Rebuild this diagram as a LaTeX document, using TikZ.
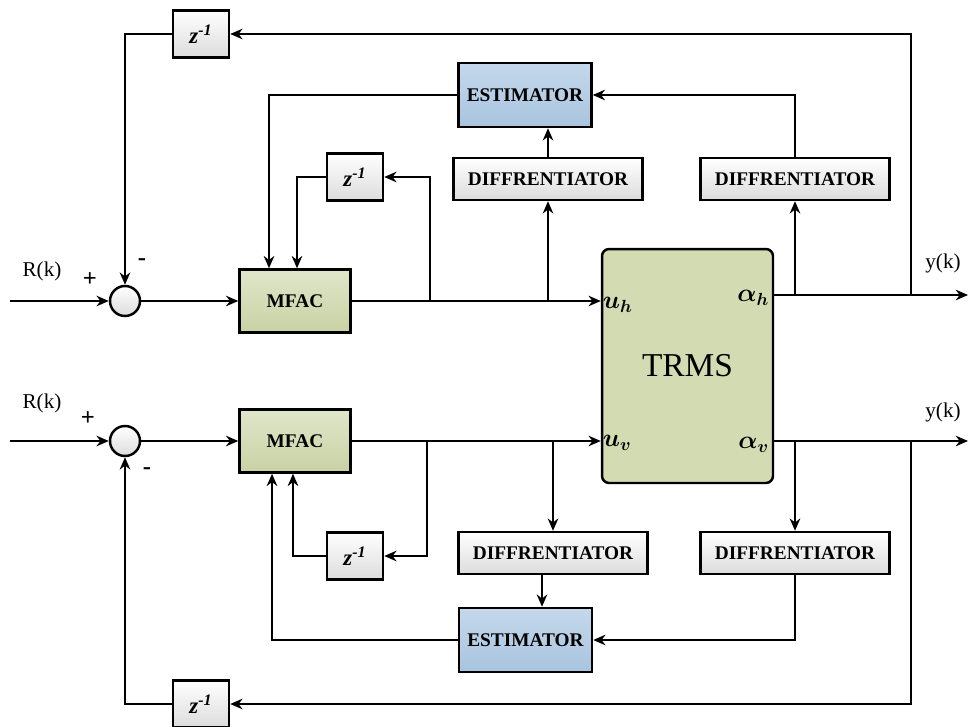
\documentclass[tikz,border=0pt]{standalone}
\usepackage{fontspec}
\setmainfont{Liberation Serif}
\usepackage{amsmath}
\usepackage{bm}
\usetikzlibrary{arrows.meta}
\definecolor{MfacGreen}{HTML}{D3DBB3}
\definecolor{MfacGreenDk}{HTML}{C8D2A4}
\definecolor{EstBlue}{HTML}{C5D8EB}
\definecolor{EstBlueDk}{HTML}{A8C4DF}
\definecolor{BoxGray}{HTML}{DCDCDC}
\newcommand{\zinv}{\textbf{\textit{z}}\textsuperscript{\textbf{\textit{-1}}}}

\begin{document}
\begin{tikzpicture}[x=0.02cm,y=-0.02cm,
    blk/.style={draw=black, line width=1.4pt, inner sep=0pt, font=\bfseries\fontsize{11}{13}\selectfont},
    zbox/.style={blk, top color=white, bottom color=BoxGray, minimum width=1.12cm, minimum height=0.94cm, font=\fontsize{13}{15}\selectfont},
    diffbox/.style={blk, top color=white, bottom color=BoxGray, minimum width=3.78cm, minimum height=0.84cm},
    mfacbox/.style={blk, top color=MfacGreen!70!white, bottom color=MfacGreenDk, minimum width=2.22cm, minimum height=1.26cm},
    estbox/.style={blk, top color=EstBlue, bottom color=EstBlueDk, minimum width=2.66cm, minimum height=1.28cm},
    plant/.style={draw=black, line width=1.4pt, fill=MfacGreen, rounded corners=4pt, minimum width=3.42cm, minimum height=4.68cm, font=\fontsize{19}{22}\selectfont},
    sumpt/.style={circle, draw=black, line width=1.4pt, minimum size=0.6cm, inner sep=0pt, top color=white, bottom color=BoxGray},
    arr/.style={-{Stealth[length=7pt,width=6pt]}, line width=1.4pt},
    lbl/.style={font=\fontsize{12}{14}\selectfont},
    mlbl/.style={font=\fontsize{14}{16}\selectfont},
    sgn/.style={font=\bfseries\fontsize{14}{16}\selectfont}]
  \useasboundingbox (0,0) rectangle (969,726);

  % horizontal loop
  \node[zbox] (zH) at (201,34) {\zinv};
  \node[estbox] (estH) at (525,95) {ESTIMATOR};
  \node[zbox] (zmH) at (355,177) {\zinv};
  \node[diffbox] (dH1) at (548,179) {DIFFRENTIATOR};
  \node[diffbox] (dH2) at (795,179) {DIFFRENTIATOR};
  \node[sumpt] (sumH) at (125,301) {};
  \node[mfacbox] (mfacH) at (295,301) {MFAC};

  % plant
  \node[plant] (trms) at (687.5,366) {TRMS};
  \node[mlbl, anchor=west, inner sep=1pt] (uH) at ([yshift=-2pt]trms.west |- sumH) {$\bm{u_h}$};
  \node[mlbl, anchor=east, inner sep=2pt] (aH) at (773,298) {$\bm{\alpha_h}$};

  % vertical loop
  \node[sumpt] (sumV) at (125,441) {};
  \node[mfacbox] (mfacV) at (295,441) {MFAC};
  \node[mlbl, anchor=west, inner sep=1pt] (uV) at ([yshift=-1pt]trms.west |- sumV) {$\bm{u_v}$};
  \node[mlbl, anchor=east, inner sep=2pt] (aV) at (773,445) {$\bm{\alpha_v}$};
  \node[zbox] (zmV) at (355,556) {\zinv};
  \node[diffbox] (dV1) at (553,553) {DIFFRENTIATOR};
  \node[diffbox] (dV2) at (795,553) {DIFFRENTIATOR};
  \node[estbox] (estV) at (525.5,640) {ESTIMATOR};
  \node[zbox] (zV) at (201,704) {\zinv};

  % texts
  \node[lbl] (rH) at (42,271) {R(k)};
  \node[lbl] (rV) at (42,403) {R(k)};
  \node[lbl] (yH) at (943,263) {y(k)};
  \node[lbl] (yV) at (943,412) {y(k)};
  \node[sgn] (pH) at (90,280) {+};
  \node[sgn] (mH) at (142,262) {-};
  \node[sgn] (pV) at (88,419) {+};
  \node[sgn] (mV) at (147,471) {-};

  % end points and junctions
  \coordinate (inH) at (10,301);
  \coordinate (inV) at (10,441);
  \coordinate (outH) at (968,295);
  \coordinate (outV) at (968,441);
  \coordinate (jH) at (430,301);
  \coordinate (jV) at (427,441);
  \coordinate (fbH) at (911,295);
  \coordinate (fbV) at (911,441);

  % horizontal wiring
  \draw[arr] (inH) -- (sumH.west);
  \draw[arr] (sumH.east) -- (mfacH.west);
  \draw[arr] (mfacH.east) -- (trms.west |- sumH);
  \draw[arr] (jH) |- (zmH.east);
  \draw[arr] (zmH.west) -| ([xshift=0.04cm]mfacH.north);
  \draw[arr] (estH.west) -| ([xshift=-0.52cm]mfacH.north);
  \draw[arr] (dH1.south |- sumH) -- (dH1.south);
  \draw[arr] (dH1.north) -- (dH1.north |- estH.south);
  \draw[arr] (trms.east |- outH) -- (outH);
  \draw[arr] (dH2.south |- outH) -- (dH2.south);
  \draw[arr] (dH2.north) |- (estH.east);
  \draw[arr] (fbH) |- (zH.east);
  \draw[arr] (zH.west) -| (sumH.north);

  % vertical wiring
  \draw[arr] (inV) -- (sumV.west);
  \draw[arr] (sumV.east) -- (mfacV.west);
  \draw[arr] (mfacV.east) -- (trms.west |- sumV);
  \draw[arr] (jV) |- (zmV.east);
  \draw[arr] (zmV.west) -| ([xshift=-0.04cm]mfacV.south);
  \draw[arr] (estV.west) -| ([xshift=-0.46cm]mfacV.south);
  \draw[arr] (dV1.north |- sumV) -- (dV1.north);
  \draw[arr] ([xshift=-0.22cm]dV1.south) -- ([xshift=-0.22cm]dV1.south |- estV.north);
  \draw[arr] (trms.east |- outV) -- (outV);
  \draw[arr] (dV2.north |- outV) -- (dV2.north);
  \draw[arr] (dV2.south) |- (estV.east);
  \draw[arr] (fbV) |- (zV.east);
  \draw[arr] (zV.west) -| (sumV.south);
\end{tikzpicture}
\end{document}
